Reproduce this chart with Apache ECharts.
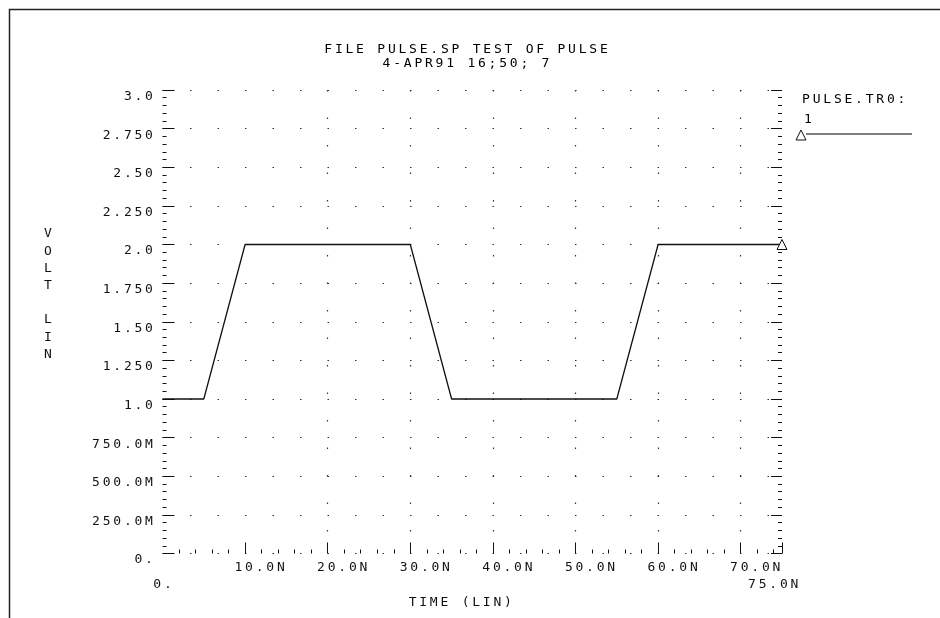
<!DOCTYPE html>
<html>
<head>
<meta charset="utf-8">
<script src="https://cdn.jsdelivr.net/npm/echarts@6/dist/echarts.min.js"></script>
<style>
  html, body { margin: 0; padding: 0; background: #fff; }
  #chart { width: 940px; height: 618px; }
</style>
</head>
<body>
<div id="chart"></div>
<script>
// Transient waveform of node 1 from PULSE.TR0 (time in ns, voltage in V)
const timeNs = [0, 5, 10, 30, 35, 55, 60, 75];
const volts  = [1.0, 1.0, 2.0, 2.0, 1.0, 1.0, 2.0, 2.0];

// Axis tick values and their printed labels
const yTickValues = [0, 0.25, 0.5, 0.75, 1.0, 1.25, 1.5, 1.75, 2.0, 2.25, 2.5, 2.75, 3.0];
const yTickLabels = ['0.', '250.0M', '500.0M', '750.0M', '1.0', '1.250', '1.50', '1.750', '2.0', '2.250', '2.50', '2.750', '3.0'];
const xTickValues = [10, 20, 30, 40, 50, 60, 70];
const xTickLabels = ['10.0N', '20.0N', '30.0N', '40.0N', '50.0N', '60.0N', '70.0N'];
const xEndValues = [0, 75];
const xEndLabels = ['0.', '75.0N'];

const titleLines = ['FILE PULSE.SP TEST OF PULSE', '4-APR91 16;50; 7'];
const yAxisTitle = ['V', 'O', 'L', 'T', '', 'L', 'I', 'N'];
const xAxisTitle = 'TIME (LIN)';
const legendName = 'PULSE.TR0:';
const legendNode = '1';

const INK = '#111';
const FONT = '"DejaVu Sans Mono", "Liberation Mono", monospace';
const FSIZE = 13;
const PITCH = 10.6;

// plotter-style lettering: every character sits in a fixed-width cell
function cells(str) {
  return str.split('').map(function (ch) { return '{c|' + ch + '}'; }).join('');
}
function pad(name) { return '{' + name + '| }'; }

const cellStyle = { width: PITCH, align: 'center', fontFamily: FONT, fontSize: FSIZE, lineHeight: 13, color: INK };
const rich = {
  c: cellStyle,
  lead: { width: 29, align: 'center', fontSize: FSIZE, lineHeight: 13 },
  tail: { width: 17.6, align: 'center', fontSize: FSIZE, lineHeight: 13 },
  tname: { width: 24, align: 'center', fontSize: FSIZE, lineHeight: 13 }
};

function lookup(values, labels, v) {
  for (let i = 0; i < values.length; i++) {
    if (Math.abs(values[i] - v) < 1e-9) return labels[i];
  }
  return null;
}

const seriesData = timeNs.map(function (t, i) { return [t, volts[i]]; });
const lastIndex = seriesData.length - 1;

const tickStyle = { color: INK, width: 1 };
const dotted = { color: '#333', width: 1.2, type: [1.5, 26] };
const hiddenLine = { show: false, onZero: false };

const chart = echarts.init(document.getElementById('chart'), null, { renderer: 'canvas' });

chart.setOption({
  animation: false,
  backgroundColor: '#fff',
  grid: { left: 162.5, right: 158, top: 90, bottom: 64.5, containLabel: false },
  xAxis: [
    {
      type: 'value', min: 0, max: 75, interval: 10, position: 'bottom',
      axisLine: hiddenLine,
      axisTick: { show: true, inside: true, length: 11, lineStyle: tickStyle,
                  customValues: xTickValues.concat([xEndValues[1]]) },
      minorTick: { show: true, splitNumber: 5, length: 4, lineStyle: tickStyle },
      splitLine: { show: true, showMinLine: false, showMaxLine: false, lineStyle: dotted },
      axisLabel: {
        margin: 8, align: 'center', rich: rich,
        showMinLabel: true, showMaxLabel: true,
        formatter: function (v) {
          const s = lookup(xTickValues, xTickLabels, v);
          return s ? pad('lead') + cells(s) : '';
        }
      }
    },
    {
      type: 'value', min: 0, max: 75, interval: 75, position: 'bottom',
      axisLine: hiddenLine, axisTick: { show: false }, splitLine: { show: false },
      axisLabel: {
        margin: 25, align: 'center', rich: rich,
        showMinLabel: true, showMaxLabel: true,
        formatter: function (v) {
          const s = lookup(xEndValues, xEndLabels, v);
          if (!s) return '';
          return v === 0 ? cells(s) : cells(s) + pad('tail');
        }
      },
      name: cells(xAxisTitle) + pad('tname'),
      nameLocation: 'middle', nameGap: 25,
      nameTextStyle: { rich: rich }
    }
  ],
  yAxis: [
    {
      type: 'value', min: 0, max: 3, interval: 0.25, position: 'left',
      axisLine: hiddenLine,
      axisTick: { show: true, inside: true, length: 12, lineStyle: tickStyle },
      minorTick: { show: true, splitNumber: 5, length: 4, lineStyle: tickStyle },
      splitLine: { show: true, lineStyle: dotted },
      axisLabel: {
        margin: 8.2, align: 'right', verticalAlign: 'top', rich: rich,
        showMinLabel: true, showMaxLabel: true,
        formatter: function (v) {
          const s = lookup(yTickValues, yTickLabels, v);
          return s ? cells(s) : '';
        }
      }
    },
    {
      type: 'value', min: 0, max: 3, interval: 0.25, position: 'right',
      axisLine: hiddenLine,
      axisTick: { show: true, inside: true, length: 11, lineStyle: tickStyle },
      minorTick: { show: true, splitNumber: 5, length: 4, lineStyle: tickStyle },
      splitLine: { show: false },
      axisLabel: { show: false }
    }
  ],
  series: [
    {
      type: 'line', xAxisIndex: 0, yAxisIndex: 0,
      data: seriesData,
      showSymbol: true, symbol: 'triangle',
      symbolSize: function (val, params) { return params.dataIndex === lastIndex ? 10 : 0; },
      itemStyle: { color: '#fff', borderColor: INK, borderWidth: 1 },
      lineStyle: { color: INK, width: 1.3 },
      silent: true, z: 5
    }
  ],
  graphic: [
    // page frame
    { type: 'polyline', silent: true,
      shape: { points: [[9.5, 618], [9.5, 9.5], [940, 9.5]] },
      style: { stroke: '#222', lineWidth: 1.5, fill: 'none' } },
    // heading
    { type: 'text', x: 466, y: 50, silent: true,
      style: { text: cells(titleLines[0]), rich: rich, align: 'center', verticalAlign: 'middle' } },
    { type: 'text', x: 466, y: 63.5, silent: true,
      style: { text: cells(titleLines[1]), rich: rich, align: 'center', verticalAlign: 'middle' } },
    // vertical axis title
    { type: 'text', x: 48, y: 294.2, silent: true,
      style: { text: yAxisTitle.join('\n'), fontFamily: FONT, fontSize: FSIZE, lineHeight: 17.2,
               fill: INK, align: 'center', verticalAlign: 'middle' } },
    // trace key
    { type: 'text', x: 800.7, y: 100, silent: true,
      style: { text: cells(legendName), rich: rich, align: 'left', verticalAlign: 'middle' } },
    { type: 'text', x: 808, y: 120, silent: true,
      style: { text: cells(legendNode), rich: rich, align: 'center', verticalAlign: 'middle' } },
    { type: 'polyline', silent: true,
      shape: { points: [[806, 134], [912, 134]] },
      style: { stroke: '#555', lineWidth: 1.5, fill: 'none' } },
    { type: 'polygon', silent: true,
      shape: { points: [[801, 130], [796, 140], [806, 140]] },
      style: { stroke: INK, lineWidth: 1, fill: '#fff' } }
  ]
});
</script>
</body>
</html>
